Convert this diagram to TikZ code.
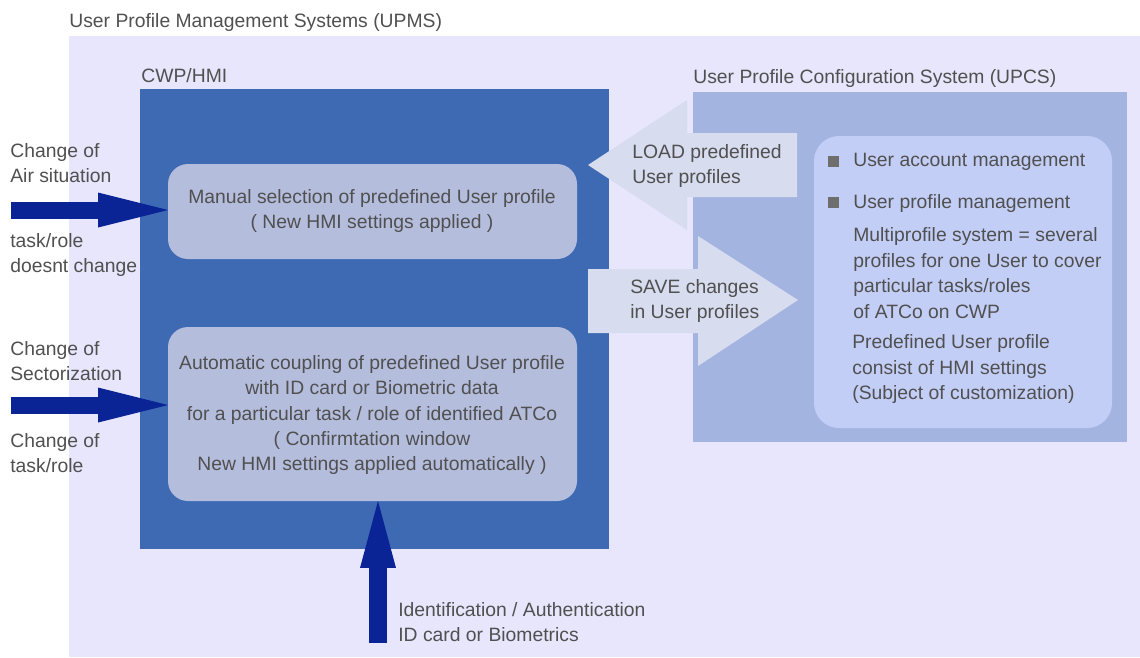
\documentclass[tikz,border=0pt]{standalone}
\usepackage{fontspec}
\setmainfont{Liberation Sans}
\usetikzlibrary{arrows.meta, positioning, fit}

\definecolor{upmsbg}{RGB}{231,230,252}
\definecolor{cwpblue}{RGB}{62,106,180}
\definecolor{profilefill}{RGB}{181,189,221}
\definecolor{upcsblue}{RGB}{163,180,225}
\definecolor{listfill}{RGB}{195,206,246}
\definecolor{arrowfill}{RGB}{215,220,239}
\definecolor{navy}{RGB}{10,36,150}
\definecolor{textgray}{RGB}{80,80,80}
\definecolor{bulletgray}{RGB}{110,110,110}

\begin{document}
\begin{tikzpicture}[
    x=0.02cm, y=-0.02cm,
    font=\fontsize{11}{14.5}\selectfont,
    region/.style={inner sep=0pt, outer sep=0pt},
    profilebox/.style={fill=profilefill, rounded corners=0.4cm, inner sep=0pt, outer sep=0pt},
    profiletext/.style={text=textgray, align=center, inner sep=0pt},
    caption/.style={text=textgray, inner sep=0pt, anchor=base west},
    sidetext/.style={text=textgray, align=left, inner sep=0pt, anchor=west},
    inputarrow/.style={draw=navy, line width=0.34cm, -{Triangle[length=1.4cm, width=0.7cm, line width=0pt]}},
    idarrow/.style={draw=navy, line width=0.36cm, -{Triangle[length=1.34cm, width=0.72cm, line width=0pt]}},
    bigarrow/.style={fill=arrowfill},
    bulletsq/.style={fill=bulletgray, minimum size=0.22cm, inner sep=0pt}
]
\useasboundingbox (0,0) rectangle (1140,657);

% Bereiche
\node[region, fill=upmsbg, fit={(69,36) (1140,657)}] (upms) {};
\node[region, fill=cwpblue, fit={(140,89) (609,549)}] (cwp) {};
\node[region, fill=upcsblue, fit={(693,92) (1127,442)}] (upcs) {};
\node[region, fill=listfill, rounded corners=0.5cm, fit={(814,136) (1112,428)}] (list) {};

% Titel der Bereiche
\node[caption] (upmslabel) at ([yshift=0.18cm]upms.north west) {User Profile Management Systems (UPMS)};
\node[caption] (cwplabel) at ([xshift=0.02cm, yshift=0.14cm]cwp.north west) {CWP/HMI};
\node[caption] (upcslabel) at ([yshift=0.18cm]upcs.north west) {User Profile Configuration System (UPCS)};

% Profil-Auswahl im CWP
\node[profilebox, fit={(168,164) (577,259)}] (manual) {};
\node[profilebox, fit={(168,327) (577,501)}] (auto) {};
\node[profiletext] (manualtext) at (372,211) {Manual selection of predefined User profile\\( New HMI settings applied )};
\node[profiletext] (autotext) at (372,415) {Automatic coupling of predefined User profile\\with ID card or Biometric data\\for a particular task / role of identified ATCo\\( Confirmtation window\\New HMI settings applied automatically )};

% LOAD / SAVE
\fill[bigarrow] (588,165) -- (687,100) -- (687,133) -- (797,133) -- (797,197) -- (687,197) -- (687,230) -- cycle;
\fill[bigarrow] (588,269) -- (698,269) -- (698,236) -- (798,300) -- (698,366) -- (698,333) -- (588,333) -- cycle;
\node[sidetext] (loadtext) at (632,166) {LOAD predefined\\User profiles};
\node[sidetext] (savetext) at (630,301) {SAVE changes\\in User profiles};

% Liste im UPCS
\node[sidetext] (account) at (853,162) {User account management};
\node[sidetext] (profiles) at (853,203) {User profile management};
\node[bulletsq] (bullet1) at (833,161) {};
\node[bulletsq] (bullet2) at (833,202) {};
\node[sidetext] (multi) at (853,273) {Multiprofile system = several\\profiles for one User to cover\\particular tasks/roles\\of ATCo on CWP};
\node[sidetext] (predef) at (852,369) {Predefined User profile\\consist of HMI settings\\(Subject of customization)};

% Ausloeser links
\node[sidetext] (airsit) at (10,163) {Change of\\Air situation};
\node[sidetext] (samerole) at (10,255) {task/role\\doesnt change};
\node[sidetext] (sector) at (10,361) {Change of\\Sectorization};
\node[sidetext] (newrole) at (10,453) {Change of\\task/role};
\node[sidetext] (ident) at (398,622) {Identification / Authentication\\ID card or Biometrics};

% Pfeile
\coordinate (in1) at (11,210);
\coordinate (in2) at (11,405);
\coordinate (idsrc) at (378,643);
\draw[inputarrow] (in1) -- (in1 -| manual.west);
\draw[inputarrow] (in2) -- (in2 -| auto.west);
\draw[idarrow] (idsrc) -- (idsrc |- auto.south);
\end{tikzpicture}
\end{document}
